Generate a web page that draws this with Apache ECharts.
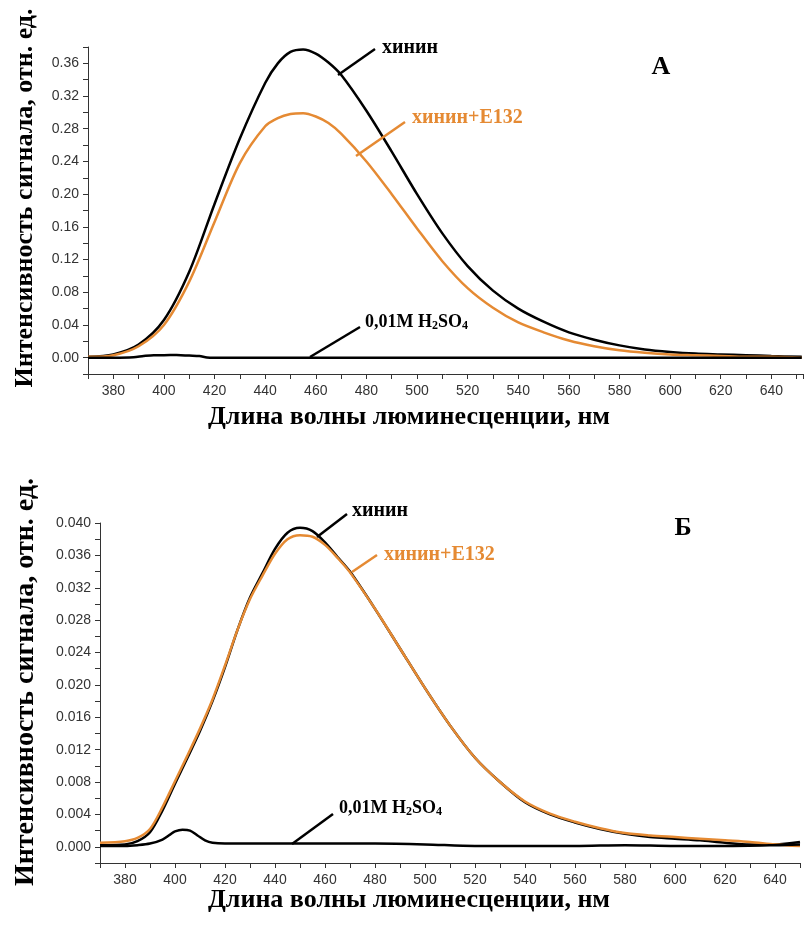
<!DOCTYPE html>
<html>
<head>
<meta charset="utf-8">
<script src="https://cdn.jsdelivr.net/npm/echarts@6/dist/echarts.min.js"></script>
<style>
html, body { margin: 0; padding: 0; background: #fff; }
#chart { width: 806px; height: 926px; }
</style>
</head>
<body>
<div id="chart"></div>
<script>
// ---- panel A (quinine) ----
var wlA = [370, 380, 390, 400, 410, 420, 430, 440, 445, 450, 455, 460, 465, 470, 480, 490, 500, 510, 520, 530, 540, 550, 560, 570, 580, 590, 600, 610, 620, 630, 640, 652];
var quinineA = [0.001, 0.004, 0.016, 0.046, 0.105, 0.188, 0.268, 0.336, 0.360, 0.374, 0.377, 0.372, 0.361, 0.346, 0.302, 0.252, 0.200, 0.152, 0.112, 0.082, 0.060, 0.044, 0.031, 0.022, 0.015, 0.010, 0.007, 0.005, 0.004, 0.003, 0.002, 0.001];
var quinineE132A = [0.001, 0.003, 0.014, 0.040, 0.093, 0.166, 0.238, 0.283, 0.293, 0.298, 0.299, 0.295, 0.287, 0.274, 0.240, 0.200, 0.158, 0.118, 0.085, 0.061, 0.043, 0.031, 0.021, 0.014, 0.009, 0.006, 0.004, 0.003, 0.002, 0.001, 0.001, 0.000];
var wlAcidA = [370, 380, 388, 392, 396, 400, 405, 410, 414, 417, 420, 460, 500, 550, 600, 652];
var acidA = [0.000, 0.000, 0.0005, 0.002, 0.003, 0.003, 0.0032, 0.0025, 0.002, 0.0003, 0.000, 0.000, 0.000, 0.000, 0.000, 0.000];

// ---- panel B (quinine) ----
var wlB = [370, 380, 385, 390, 395, 400, 405, 410, 415, 420, 425, 430, 435, 440, 445, 450, 455, 460, 465, 470, 480, 490, 500, 510, 520, 530, 540, 550, 560, 570, 580, 590, 600, 610, 620, 630, 640, 650];
var quinineB = [0.0002, 0.0003, 0.0007, 0.0018, 0.0045, 0.0078, 0.0110, 0.0143, 0.0180, 0.0222, 0.0268, 0.0308, 0.0338, 0.0368, 0.0388, 0.0394, 0.0390, 0.0376, 0.0358, 0.0340, 0.0294, 0.0245, 0.0196, 0.0150, 0.0110, 0.0080, 0.0055, 0.0040, 0.0030, 0.0022, 0.0016, 0.0012, 0.0010, 0.0008, 0.0005, 0.0003, 0.0003, 0.0006];
var quinineE132B = [0.0005, 0.0007, 0.0011, 0.0022, 0.0049, 0.0081, 0.0113, 0.0146, 0.0182, 0.0224, 0.0268, 0.0306, 0.0335, 0.0362, 0.0380, 0.0385, 0.0383, 0.0373, 0.0357, 0.0339, 0.0294, 0.0245, 0.0196, 0.0150, 0.0110, 0.0080, 0.0056, 0.0041, 0.0031, 0.0023, 0.0017, 0.0014, 0.0012, 0.0010, 0.0008, 0.0006, 0.0003, 0.0001];
var wlAcidB = [370, 380, 385, 390, 395, 398, 400, 403, 406, 409, 412, 415, 420, 440, 460, 480, 500, 520, 540, 560, 580, 600, 620, 640, 650];
var acidB = [0.0001, 0.0001, 0.0002, 0.0004, 0.0009, 0.0015, 0.0019, 0.0021, 0.0020, 0.0014, 0.0008, 0.0005, 0.0004, 0.0004, 0.0004, 0.0004, 0.0003, 0.0001, 0.0001, 0.0001, 0.0002, 0.0001, 0.0001, 0.0002, 0.0003];

var yTitle = 'Интенсивность сигнала, отн. ед.';
var xTitle = 'Длина волны люминесценции, нм';

function pairs(x, y) {
	return x.map(function (v, i) { return [v, y[i]]; });
}

var orange = '#E58A33';
var serif = 'Liberation Serif';
var sans = 'Liberation Sans';

function xAxisOf(gridIndex, max) {
	return {
		gridIndex: gridIndex,
		type: 'value',
		min: 370,
		max: max,
		interval: 10,
		axisLine: { onZero: false, lineStyle: { color: '#333', width: 1 } },
		axisTick: { length: 5, lineStyle: { color: '#333' } },
		splitLine: { show: false },
		axisLabel: {
			color: '#333', fontFamily: sans, fontSize: 14, margin: 10,
			formatter: function (v) { return (Math.round(v) % 20 === 0 && Math.abs(v - Math.round(v)) < 1e-6) ? String(v) : ''; }
		}
	};
}

function yAxisOf(gridIndex, min, max, step, digits) {
	return {
		gridIndex: gridIndex,
		type: 'value',
		min: min,
		max: max,
		interval: step,
		axisLine: { show: true, onZero: false, lineStyle: { color: '#333', width: 1 } },
		axisTick: { show: true, length: 5, lineStyle: { color: '#333' } },
		splitLine: { show: false },
		axisLabel: {
			color: '#333', fontFamily: sans, fontSize: 14, margin: 9,
			formatter: function (v) {
				var k = Math.round(v / step);
				return (k % 2 === 0 && v > -step / 2) ? v.toFixed(digits) : '';
			}
		}
	};
}

function line(name, xi, data, color, z) {
	return {
		name: name,
		type: 'line',
		xAxisIndex: xi,
		yAxisIndex: xi,
		data: data,
		smooth: 0.3,
		showSymbol: false,
		z: z,
		lineStyle: { color: color, width: 2.5 }
	};
}

function tx(x, y, text, color, size, extra) {
	var s = { text: text, fill: color, font: 'bold ' + size + 'px "' + serif + '"' };
	for (var k in extra) s[k] = extra[k];
	return { type: 'text', x: x, y: y, style: s, z: 100 };
}
function ln(x1, y1, x2, y2, color) {
	return { type: 'line', shape: { x1: x1, y1: y1, x2: x2, y2: y2 }, style: { stroke: color, lineWidth: 2.5 }, z: 100 };
}
function acidLabel(x, y) {
	return {
		type: 'text', z: 100, x: x, y: y,
		style: {
			text: '{n|0,01M H}{s|2}{n|SO}{s|4}',
			rich: {
				n: { fontFamily: serif, fontWeight: 'bold', fontSize: 18, fill: '#000', color: '#000' },
				s: { fontFamily: serif, fontWeight: 'bold', fontSize: 12, fill: '#000', color: '#000', verticalAlign: 'bottom', padding: [7, 0, 0, 0] }
			}
		}
	};
}
function vTitle(x, y, size) {
	return { type: 'text', x: x, y: y, rotation: Math.PI / 2, z: 100,
		style: { text: yTitle, fill: '#000', font: 'bold ' + size + 'px "' + serif + '"', align: 'center', verticalAlign: 'middle' } };
}

var dom = document.getElementById('chart');
var myChart = echarts.init(dom);
var option = {
	backgroundColor: '#fff',
	animation: false,
	grid: [
		{ left: 88, top: 47, width: 718, height: 327 },
		{ left: 100, top: 523, width: 700, height: 340 }
	],
	xAxis: [xAxisOf(0, 652.5), xAxisOf(1, 650)],
	yAxis: [yAxisOf(0, -0.02, 0.38, 0.02, 2), yAxisOf(1, -0.002, 0.04, 0.002, 3)],
	series: [
		line('хинин', 0, pairs(wlA, quinineA), '#000', 2),
		line('хинин+E132', 0, pairs(wlA, quinineE132A), orange, 3),
		line('0,01M H2SO4', 0, pairs(wlAcidA, acidA), '#000', 4),
		line('хинин', 1, pairs(wlB, quinineB), '#000', 2),
		line('хинин+E132', 1, pairs(wlB, quinineE132B), orange, 3),
		line('0,01M H2SO4', 1, pairs(wlAcidB, acidB), '#000', 4)
	],
	graphic: [
		// axis titles
		vTitle(25, 198, 26),
		vTitle(26, 682, 28),
		tx(409, 417, xTitle, '#000', 26, { align: 'center', verticalAlign: 'middle' }),
		tx(409, 900, xTitle, '#000', 26, { align: 'center', verticalAlign: 'middle' }),
		// panel A annotations
		tx(661, 67, 'А', '#000', 26, { align: 'center', verticalAlign: 'middle' }),
		tx(382, 48, 'хинин', '#000', 20, { verticalAlign: 'middle' }),
		ln(375, 49, 338, 75, '#000'),
		tx(412, 118, 'хинин+E132', orange, 20, { verticalAlign: 'middle' }),
		ln(405, 122, 356, 156, orange),
		acidLabel(365, 313),
		ln(360, 327, 310, 357, '#000'),
		// panel B annotations
		tx(683, 528, 'Б', '#000', 26, { align: 'center', verticalAlign: 'middle' }),
		tx(352, 511, 'хинин', '#000', 20, { verticalAlign: 'middle' }),
		ln(347, 514, 317, 537, '#000'),
		tx(384, 555, 'хинин+E132', orange, 20, { verticalAlign: 'middle' }),
		ln(377, 555, 352, 572, orange),
		acidLabel(339, 799),
		ln(333, 814, 292, 844, '#000')
	]
};

myChart.setOption(option, true);
window.addEventListener('resize', function () { myChart.resize(); });
</script>
</body>
</html>
